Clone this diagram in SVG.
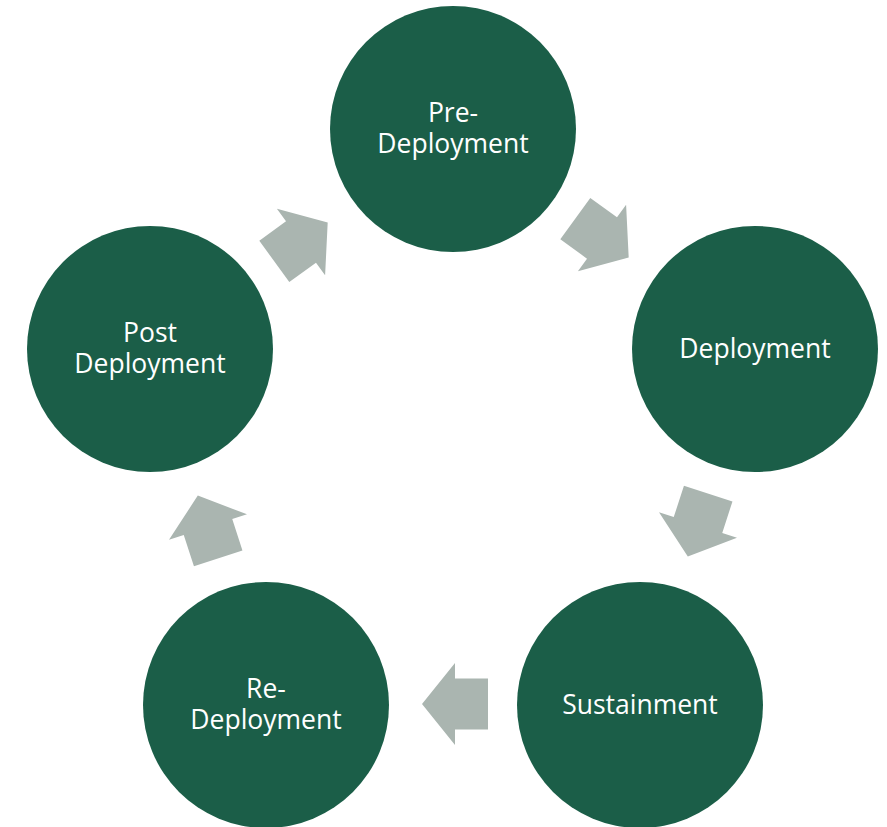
<svg xmlns="http://www.w3.org/2000/svg" width="887" height="827" viewBox="0 0 887 827">
<defs>
<style>
.node{fill:#1b5e48;}
.lbl{font-family:"Open Sans","Noto Sans",sans-serif;font-size:26.5px;fill:#ffffff;text-anchor:middle;}
.arr{fill:#aab5b0;}
</style>
<polygon id="arrow" points="-33,-25.5 0,-25.5 0,-41 33,0 0,41 0,25.5 -33,25.5"/>
</defs>
<rect width="887" height="827" fill="#ffffff"/>
<g id="connectors" class="arr">
<use href="#arrow" transform="translate(602,238) rotate(36)"/>
<use href="#arrow" transform="translate(698,525) rotate(108)"/>
<use href="#arrow" transform="translate(455,704) rotate(180)"/>
<use href="#arrow" transform="translate(208,527) rotate(252)"/>
<use href="#arrow" transform="translate(301,242) rotate(-36)"/>
</g>
<g id="pre-deployment">
<circle class="node" cx="453" cy="129" r="123"/>
<text class="lbl" x="453" y="122">Pre-</text>
<text class="lbl" x="453" y="153">Deployment</text>
</g>
<g id="deployment">
<circle class="node" cx="755" cy="349" r="123"/>
<text class="lbl" x="755" y="358">Deployment</text>
</g>
<g id="sustainment">
<circle class="node" cx="640" cy="705" r="123"/>
<text class="lbl" x="640" y="714">Sustainment</text>
</g>
<g id="re-deployment">
<circle class="node" cx="266" cy="705" r="123"/>
<text class="lbl" x="266" y="698">Re-</text>
<text class="lbl" x="266" y="729">Deployment</text>
</g>
<g id="post-deployment">
<circle class="node" cx="150" cy="349" r="123"/>
<text class="lbl" x="150" y="342">Post</text>
<text class="lbl" x="150" y="373">Deployment</text>
</g>
</svg>
